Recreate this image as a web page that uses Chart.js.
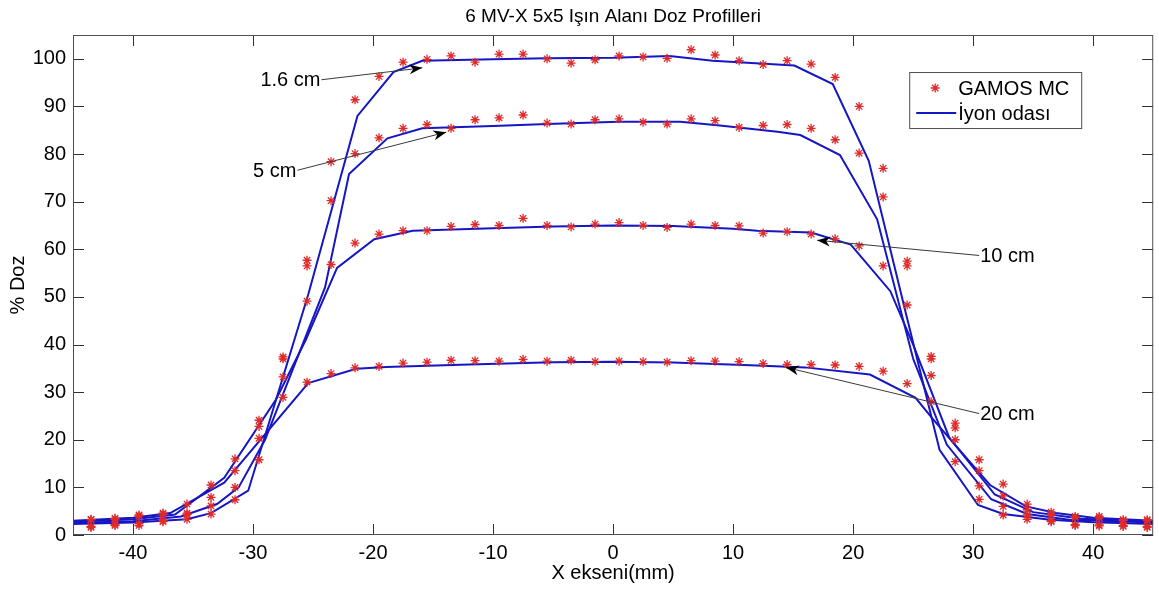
<!DOCTYPE html>
<html>
<head>
<meta charset="utf-8">
<title>6 MV-X 5x5 Işın Alanı Doz Profilleri</title>
<script src="https://cdn.jsdelivr.net/npm/chart.js@4.4.1/dist/chart.umd.min.js"></script>
<style>
  html, body { margin: 0; padding: 0; background: #fff; }
</style>
</head>
<body>
<canvas id="profiles" width="1159" height="589"></canvas>
<script>
// GAMOS MC points (mm, % dose)
const mcX = [-43.5, -41.5, -39.5, -37.5, -35.5, -33.5, -31.5, -29.5, -27.5, -25.5, -23.5, -21.5, -19.5, -17.5, -15.5,
             -13.5, -11.5, -9.5, -7.5, -5.5, -3.5, -1.5, 0.5, 2.5, 4.5, 6.5, 8.5, 10.5, 12.5, 14.5,
             16.5, 18.5, 20.5, 22.5, 24.5, 26.5, 28.5, 30.5, 32.5, 34.5, 36.5, 38.5, 40.5, 42.5, 44.5];
const mc16 = [1.6, 2.0, 2.0, 2.8, 3.3, 4.4, 7.4, 15.8, 37.4, 57.7, 78.4, 91.4, 96.3, 99.3, 99.9,
              100.6, 99.3, 101.0, 101.0, 100.0, 99.1, 99.8, 100.6, 100.4, 100.1, 101.9, 100.8, 99.6, 98.8, 99.6,
              98.9, 96.1, 90.0, 77.0, 57.5, 37.5, 15.4, 7.5, 4.2, 3.3, 2.8, 2.0, 1.9, 1.8, 1.6];
const mc5  = [1.8, 2.2, 2.4, 3.0, 4.3, 6.1, 10.0, 20.3, 37.0, 56.5, 70.2, 80.1, 83.4, 85.4, 86.2,
              85.4, 87.2, 87.6, 88.2, 86.5, 86.3, 87.2, 87.4, 86.7, 86.3, 87.4, 87.0, 85.6, 86.0, 86.2,
              85.4, 83.0, 80.2, 71.0, 56.5, 37.0, 20.0, 10.3, 6.0, 4.2, 3.0, 2.2, 2.1, 2.0, 1.8];
const mc10 = [3.2, 3.3, 4.0, 4.4, 4.6, 7.9, 13.5, 22.8, 33.2, 49.1, 56.8, 61.3, 63.2, 63.9, 63.9,
              64.8, 65.2, 65.0, 66.5, 65.0, 64.7, 65.3, 65.6, 65.0, 64.6, 65.3, 65.0, 64.9, 63.4, 63.7,
              63.2, 62.2, 60.7, 56.5, 48.3, 33.5, 22.5, 13.5, 8.2, 5.3, 4.2, 3.7, 3.6, 3.0, 3.0];
const mc20 = [3.3, 3.5, 4.2, 4.6, 6.5, 10.5, 16.0, 24.1, 28.9, 32.1, 33.9, 35.1, 35.4, 36.1, 36.3,
              36.7, 36.6, 36.5, 36.9, 36.5, 36.7, 36.4, 36.5, 36.4, 36.3, 36.6, 36.5, 36.4, 36.0, 35.8,
              35.8, 35.7, 35.4, 34.4, 31.8, 28.0, 23.5, 15.8, 10.7, 6.5, 4.8, 3.9, 3.9, 3.2, 3.2];

// Ion chamber (İyon odası) measurements
const ic16x = [-45, -40, -35.5, -33.5, -30.4, -25.4, -21.3, -18.3, -15.9, -10, -5.5, 0, 4.7, 8.3, 15.1,
               18.3, 21.3, 24.3, 27.2, 30.4, 32.5, 36.4, 40, 45];
const ic16y = [2.3, 2.6, 3.3, 4.6, 9.3, 50.5, 88.0, 97.2, 99.6, 99.9, 100.1, 100.2, 100.6, 99.6, 98.6,
               94.7, 78.6, 47.5, 17.9, 6.3, 4.4, 3.2, 2.7, 2.3];
const ic5x = [-45, -40, -36, -33, -31.2, -29, -26.5, -24, -22, -18.8, -15.9, -10, -5.5, 0.4, 5.6, 8.9,
              13.7, 15.6, 18.9, 22, 25, 27.8, 31.5, 34.5, 38, 45];
const ic5y = [2.5, 2.9, 3.9, 6.5, 10.0, 20.0, 36.0, 52.0, 75.8, 83.3, 85.4, 85.9, 86.3, 86.8, 86.8, 86.0,
              84.7, 84.0, 79.8, 66.3, 37.0, 19.0, 7.5, 4.4, 3.2, 2.6];
const ic10x = [-45, -40, -36.5, -32.4, -28.1, -25.6, -23, -19.9, -16.7, -10, -5, 0, 5, 10, 12, 16.5,
               19.8, 23.1, 25, 28, 31.8, 35, 39, 45];
const ic10y = [2.8, 3.3, 4.3, 12.0, 28.4, 41.0, 56.1, 62.1, 63.9, 64.4, 64.8, 65.0, 64.9, 64.3, 63.9, 63.5,
               61.0, 51.2, 40.0, 20.5, 8.5, 4.8, 3.4, 2.8];
const ic20x = [-45, -40, -36.9, -32.4, -25.4, -21.4, -18.9, -12, -5, 0, 5, 12, 16, 21.4, 25.2, 26.7,
               28.6, 31.4, 34.4, 36.9, 40, 45];
const ic20y = [3.0, 3.6, 4.6, 11.0, 31.9, 34.9, 35.3, 35.8, 36.3, 36.4, 36.2, 35.6, 35.2, 33.7, 28.8, 24.2,
               18.6, 10.5, 6.0, 4.6, 3.6, 3.0];

const xTickVals = [-40, -30, -20, -10, 0, 10, 20, 30, 40];
const yTickVals = [0, 10, 20, 30, 40, 50, 60, 70, 80, 90, 100];

const titleText = '6 MV-X 5x5 Işın Alanı Doz Profilleri';
const legendLabels = ["GAMOS MC", "İyon odası"];

// depth labels with arrows: text anchor and arrow tip in data units
const annLabels = ["1.6 cm", "5 cm", "10 cm", "20 cm"];
const annFromX = [-24.3, -26.3, 30.5, 30.5];
const annFromY = [95.6, 76.6, 58.7, 25.5];
const annTipX = [-15.9, -13.9, 17.0, 14.4];
const annTipY = [98.1, 84.6, 61.9, 35.2];

const RED = '#e02a2a';
const BLUE = '#1616c4';
const FONT = "'Liberation Sans', Arial, sans-serif";

function pts(xs, ys) {
    return xs.map((x, i) => ({x: x, y: ys[i]}));
}

function mcSet(ys) {
    return {
        label: legendLabels[0],
        data: pts(mcX, ys),
        showLine: false,
        pointStyle: 'star',
        pointRadius: 4.5,
        pointBorderWidth: 1.3,
        borderColor: RED,
        backgroundColor: RED
    };
}

function icSet(xs, ys) {
    return {
        label: legendLabels[1],
        data: pts(xs, ys),
        showLine: true,
        pointRadius: 0,
        borderWidth: 2,
        borderColor: BLUE,
        tension: 0
    };
}

// title, box, inward ticks, arrows and legend like the matlab figure
const overlay = {
    id: 'overlay',
    afterDatasetsDraw(chart) {
        const ctx = chart.ctx;
        const a = chart.chartArea;
        const xs = chart.scales.x, ys = chart.scales.y;
        ctx.save();

        ctx.fillStyle = '#000';
        ctx.font = '19px ' + FONT;
        ctx.textAlign = 'center';
        ctx.textBaseline = 'alphabetic';
        ctx.fillText(titleText, (a.left + a.right) / 2, a.top - 13);

        ctx.strokeStyle = '#303030';
        ctx.lineWidth = 1;
        ctx.beginPath();
        xs.ticks.forEach(t => {
            const px = Math.round(xs.getPixelForValue(t.value)) + 0.5;
            ctx.moveTo(px, a.bottom); ctx.lineTo(px, a.bottom - 11);
            ctx.moveTo(px, a.top); ctx.lineTo(px, a.top + 11);
        });
        ys.ticks.forEach(t => {
            const py = Math.round(ys.getPixelForValue(t.value)) + 0.5;
            ctx.moveTo(a.left, py); ctx.lineTo(a.left + 11, py);
            ctx.moveTo(a.right, py); ctx.lineTo(a.right - 11, py);
        });
        ctx.stroke();
        ctx.strokeStyle = '#505050';
        ctx.strokeRect(a.left + 0.5, a.top + 0.5, a.right - a.left - 1, a.bottom - a.top - 1);

        // arrows
        ctx.font = '20px ' + FONT;
        ctx.textBaseline = 'middle';
        annLabels.forEach((lab, i) => {
            const x0 = xs.getPixelForValue(annFromX[i]), y0 = ys.getPixelForValue(annFromY[i]);
            const x1 = xs.getPixelForValue(annTipX[i]), y1 = ys.getPixelForValue(annTipY[i]);
            ctx.strokeStyle = '#3a3a3a';
            ctx.lineWidth = 1;
            ctx.beginPath();
            ctx.moveTo(x0, y0);
            ctx.lineTo(x1, y1);
            ctx.stroke();
            const ang = Math.atan2(y1 - y0, x1 - x0);
            const L = 13, W = 5;
            ctx.save();
            ctx.translate(x1, y1);
            ctx.rotate(ang);
            ctx.fillStyle = '#000';
            ctx.beginPath();
            ctx.moveTo(0, 0);
            ctx.lineTo(-L, -W);
            ctx.lineTo(-L * 0.7, 0);
            ctx.lineTo(-L, W);
            ctx.closePath();
            ctx.fill();
            ctx.restore();
            ctx.fillStyle = '#000';
            if (x0 < x1) {
                ctx.textAlign = 'right';
                ctx.fillText(lab, x0 - 1, y0 + 1);
            } else {
                ctx.textAlign = 'left';
                ctx.fillText(lab, x0 + 1, y0 + 1);
            }
        });

        // legend
        const lx = a.right - 244, ly = a.top + 37, lw = 172, lh = 56;
        ctx.fillStyle = '#fff';
        ctx.fillRect(lx, ly, lw, lh);
        ctx.strokeStyle = '#505050';
        ctx.lineWidth = 1;
        ctx.strokeRect(lx + 0.5, ly + 0.5, lw, lh);
        const r = 4.5, mx = lx + 26, my = ly + 16;
        ctx.strokeStyle = RED;
        ctx.lineWidth = 1.3;
        ctx.beginPath();
        ctx.moveTo(mx - r, my); ctx.lineTo(mx + r, my);
        ctx.moveTo(mx, my - r); ctx.lineTo(mx, my + r);
        const d = r * Math.SQRT1_2;
        ctx.moveTo(mx - d, my - d); ctx.lineTo(mx + d, my + d);
        ctx.moveTo(mx - d, my + d); ctx.lineTo(mx + d, my - d);
        ctx.stroke();
        ctx.strokeStyle = BLUE;
        ctx.lineWidth = 2;
        ctx.beginPath();
        ctx.moveTo(lx + 7, ly + 41); ctx.lineTo(lx + 47, ly + 41);
        ctx.stroke();
        ctx.fillStyle = '#000';
        ctx.textAlign = 'left';
        ctx.fillText(legendLabels[0], lx + 49, my + 1);
        ctx.fillText(legendLabels[1], lx + 49, ly + 42);

        ctx.restore();
    }
};

Chart.defaults.font.family = FONT;
Chart.defaults.font.size = 20;
Chart.defaults.color = '#000';

new Chart(document.getElementById('profiles'), {
    type: 'scatter',
    data: {
        datasets: [
            mcSet(mc16), mcSet(mc5), mcSet(mc10), mcSet(mc20),
            icSet(ic16x, ic16y), icSet(ic5x, ic5y), icSet(ic10x, ic10y), icSet(ic20x, ic20y)
        ]
    },
    options: {
        responsive: false,
        animation: false,
        layout: { padding: { top: 35, right: 2, left: 0, bottom: 0 } },
        plugins: {
            legend: { display: false },
            tooltip: { enabled: false },
            title: { display: false }
        },
        scales: {
            x: {
                type: 'linear',
                min: -45,
                max: 45,
                grid: { display: false, drawTicks: false },
                border: { display: false },
                ticks: { padding: 6, maxRotation: 0 },
                afterBuildTicks(scale) { scale.ticks = xTickVals.map(v => ({value: v})); },
                title: { display: true, text: 'X ekseni(mm)', padding: { top: 0, bottom: 4 } },
                afterFit(scale) { scale.height = 54; }
            },
            y: {
                min: 0,
                max: 105,
                grid: { display: false, drawTicks: false },
                border: { display: false },
                ticks: { padding: 7 },
                afterBuildTicks(scale) { scale.ticks = yTickVals.map(v => ({value: v})); },
                title: { display: true, text: '% Doz', padding: { top: 6, bottom: 0 } },
                afterFit(scale) { scale.width = 73; }
            }
        }
    },
    plugins: [overlay]
});
</script>
</body>
</html>
